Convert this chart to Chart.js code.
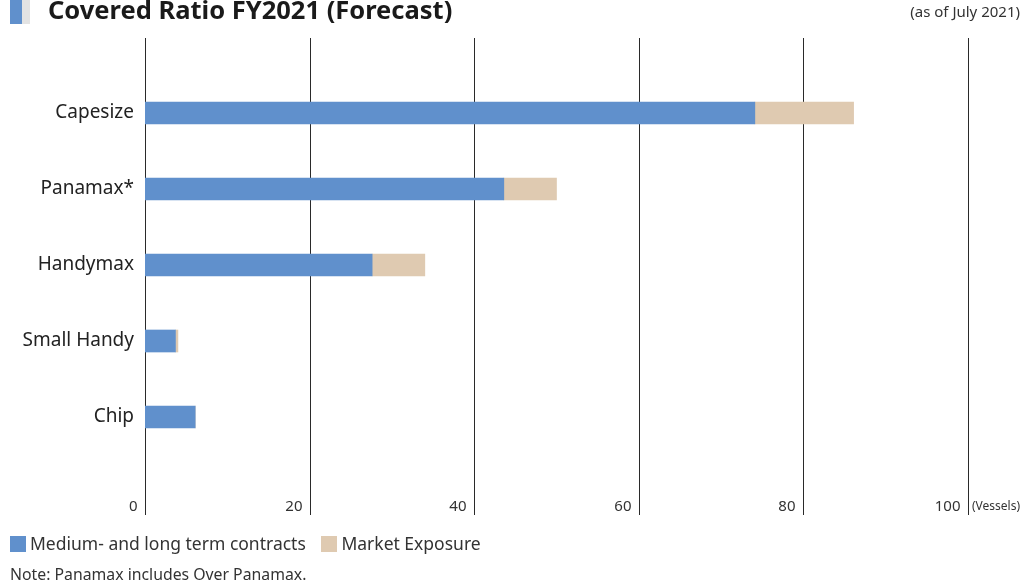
<!DOCTYPE html>
<html>
<head>
<meta charset="utf-8">
<script src="https://cdn.jsdelivr.net/npm/chart.js@4/dist/chart.umd.min.js"></script>
<style>
  html, body { margin: 0; padding: 0; background: #fff; }
  body { width: 1023px; height: 585px; position: relative; overflow: hidden; font-family: "Noto Sans", sans-serif; color: #222; }
  #wrap { position: absolute; left: 0; top: 0; width: 1023px; height: 585px; }
  .title { position: absolute; left: 48px; top: -8px; font-size: 25.5px; font-weight: bold; color: #1a1a1a; }
  .mark1 { position: absolute; left: 10px; top: 0; width: 12px; height: 24px; background: #6090cc; }
  .mark2 { position: absolute; left: 22px; top: 0; width: 8px; height: 24px; background: #e3e3e3; }
  .asof { position: absolute; right: 3px; top: 1px; font-size: 15px; color: #333; }
  .legend { position: absolute; left: 10px; top: 531px; font-size: 17.5px; color: #333; white-space: nowrap; }
  .legend span.sw { display: inline-block; width: 16px; height: 16px; vertical-align: -2px; margin-right: 4px; }
  .legend span.item { margin-right: 11px; }
  .note { position: absolute; left: 10px; top: 563px; font-size: 15.8px; color: #333; }
</style>
</head>
<body>
<div id="wrap"><canvas id="chart" width="1023" height="585"></canvas></div>
<div class="mark1"></div><div class="mark2"></div>
<div class="title">Covered Ratio FY2021 (Forecast)</div>
<div class="asof">(as of July 2021)</div>
<div class="legend">
  <span class="item"><span class="sw" style="background:#6090cc"></span>Medium- and long term contracts</span>
  <span class="item"><span class="sw" style="background:#dfcab1"></span>Market Exposure</span>
</div>
<div class="note">Note: Panamax includes Over Panamax.</div>
<script>
const categories = ['Capesize', 'Panamax*', 'Handymax', 'Small Handy', 'Chip'];
const contracts = [74.1, 43.6, 27.6, 3.7, 6.1];
const exposure = [12.0, 6.4, 6.4, 0.3, 0];
const xTicks = [0, 20, 40, 60, 80, 100];

// vertical grid lines running past the plot, with labels beside them
const gridPlugin = {
    id: 'vgrid',
    beforeDatasetsDraw(chart) {
        const ctx = chart.ctx;
        const xs = chart.scales.x;
        ctx.save();
        ctx.strokeStyle = '#2a2a2a';
        ctx.lineWidth = 1;
        ctx.font = '15px "Noto Sans"';
        ctx.fillStyle = '#333';
        ctx.textAlign = 'right';
        ctx.textBaseline = 'middle';
        xTicks.forEach(v => {
            const x = Math.round(xs.getPixelForValue(v)) + 0.5;
            ctx.beginPath();
            ctx.moveTo(x, 38);
            ctx.lineTo(x, 515);
            ctx.stroke();
            ctx.fillText(String(v), x - 8, 507);
        });
        ctx.font = '12px "Noto Sans"';
        ctx.textAlign = 'left';
        ctx.fillText('(Vessels)', xs.getPixelForValue(100) + 4, 507);
        ctx.restore();
    }
};

new Chart(document.getElementById('chart'), {
    type: 'bar',
    data: {
        labels: categories,
        datasets: [{
            label: 'Medium- and long term contracts',
            data: contracts,
            backgroundColor: '#6090cc',
            barThickness: 22
        }, {
            label: 'Market Exposure',
            data: exposure,
            backgroundColor: '#dfcab1',
            barThickness: 22
        }]
    },
    options: {
        indexAxis: 'y',
        responsive: false,
        animation: false,
        layout: { padding: { left: 0, right: 55, top: 75, bottom: 130 } },
        scales: {
            x: {
                stacked: true,
                display: false,
                min: 0,
                max: 100
            },
            y: {
                stacked: true,
                afterFit: s => { s.width = 145; },
                grid: { display: false, drawTicks: false },
                border: { display: false },
                ticks: {
                    padding: 11,
                    color: '#222',
                    font: { family: 'Noto Sans', size: 19 }
                }
            }
        },
        plugins: {
            legend: { display: false },
            tooltip: { enabled: false }
        }
    },
    plugins: [gridPlugin]
});
</script>
</body>
</html>
